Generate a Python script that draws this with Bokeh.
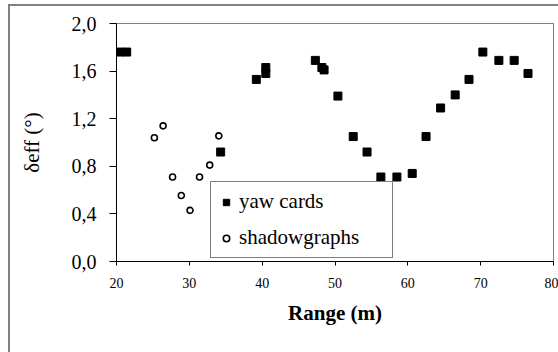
from bokeh.plotting import figure
from bokeh.models import Range1d, FixedTicker, CustomJSTickFormatter, Legend, LegendItem
from bokeh.embed import file_html
from bokeh.resources import INLINE

# yaw cards (filled squares)
yaw_x = [20.4, 21.4, 34.3, 39.2, 40.5, 40.5, 47.3, 48.2, 48.5, 50.4, 52.5, 54.4,
         56.3, 58.5, 60.6, 62.5, 64.5, 66.5, 68.4, 70.3, 72.5, 74.6, 76.5]
yaw_y = [1.76, 1.76, 0.92, 1.53, 1.58, 1.63, 1.69, 1.63, 1.61, 1.39, 1.05, 0.92,
         0.71, 0.71, 0.74, 1.05, 1.29, 1.40, 1.53, 1.76, 1.69, 1.69, 1.58]
# shadowgraphs (open circles)
sh_x = [25.2, 26.4, 27.7, 28.9, 30.1, 31.4, 32.8, 34.05]
sh_y = [1.04, 1.14, 0.71, 0.555, 0.43, 0.71, 0.81, 1.056]

x_ticks = [20, 30, 40, 50, 60, 70, 80]
y_ticks = [0.0, 0.4, 0.8, 1.2, 1.6, 2.0]

FONT = "Liberation Serif"

p = figure(width=558, height=352, output_backend="svg", toolbar_location=None,
           x_range=Range1d(20, 80), y_range=Range1d(0, 2.0),
           min_border_left=116, min_border_right=5, min_border_top=23, min_border_bottom=91)

p.styles = {"box-shadow": "inset 8px 4px 0 0 white, inset 10px 6px 0 0 #808080"}
p.border_fill_color = None
p.background_fill_color = "white"
p.outline_line_color = "#808080"
p.outline_line_width = 1
p.xgrid.visible = False
p.ygrid.visible = False

r1 = p.scatter(yaw_x, yaw_y, marker="square", size=8, fill_color="black", line_color="black")
r2 = p.scatter(sh_x, sh_y, marker="circle", size=6, fill_color="white", line_color="black", line_width=1.6)

xa = p.xaxis[0]
xa.ticker = FixedTicker(ticks=x_ticks)
xa.axis_line_color = "black"
xa.major_tick_line_color = "black"
xa.major_tick_in = 0
xa.major_tick_out = 4
xa.minor_tick_line_color = None
xa.major_label_text_font = FONT
xa.major_label_text_font_size = "14px"
xa.major_label_text_color = "black"
xa.major_label_standoff = 12
xa.axis_label = "Range (m)"
xa.axis_label_text_font = FONT
xa.axis_label_text_font_style = "bold"
xa.axis_label_text_font_size = "21px"
xa.axis_label_text_color = "black"
xa.axis_label_standoff = 10

ya = p.yaxis[0]
ya.ticker = FixedTicker(ticks=y_ticks)
ya.formatter = CustomJSTickFormatter(code="return tick.toFixed(1).replace('.', ',');")
ya.axis_line_color = "black"
ya.major_tick_line_color = "black"
ya.major_tick_in = 0
ya.major_tick_out = 7
ya.minor_tick_line_color = None
ya.major_label_text_font = FONT
ya.major_label_text_font_size = "20px"
ya.major_label_text_color = "black"
ya.major_label_standoff = 13
ya.axis_label = "\u03b4eff (\u00b0)"
ya.axis_label_text_font = FONT
ya.axis_label_text_font_style = "normal"
ya.axis_label_text_font_size = "21px"
ya.axis_label_text_color = "black"
ya.axis_label_standoff = 25

legend = Legend(items=[LegendItem(label="yaw cards", renderers=[r1]),
                       LegendItem(label="shadowgraphs", renderers=[r2])],
                location=(94, 3), margin=0, padding=7, spacing=11,
                glyph_width=16, glyph_height=24, label_height=24, label_width=146,
                label_standoff=5, border_line_color="black", border_line_width=1,
                background_fill_color="white", background_fill_alpha=1,
                label_text_font=FONT, label_text_font_size="21px",
                label_text_color="black")
p.add_layout(legend)

open("out.html", "w").write(file_html(p, INLINE))
